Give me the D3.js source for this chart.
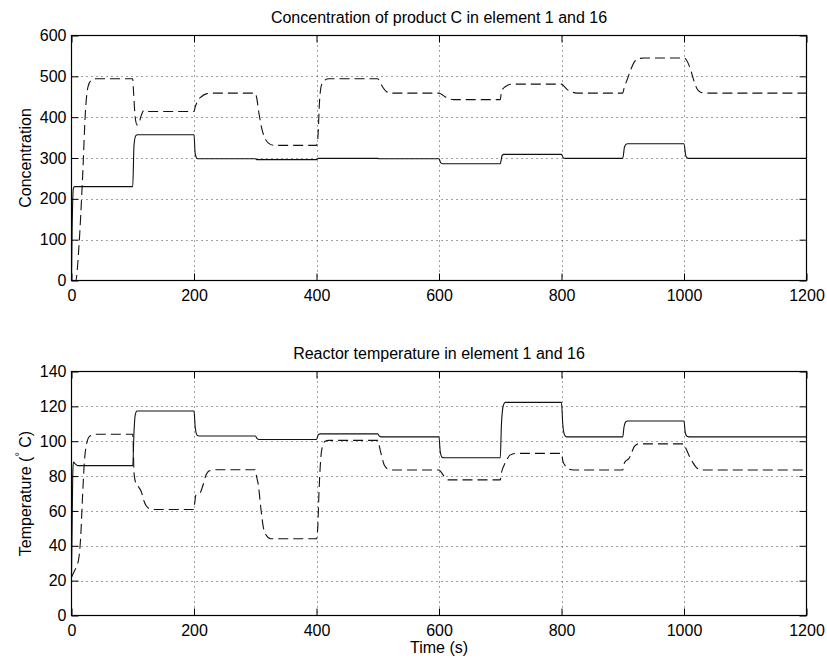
<!DOCTYPE html>
<html><head><meta charset="utf-8">
<script src="https://cdn.jsdelivr.net/npm/d3@7"></script>
<style>body{margin:0;background:#fff}</style>
</head><body>
<svg id="c" width="827" height="659"></svg>
<script>
const timeTicks = [0, 200, 400, 600, 800, 1000, 1200];
const concTicks = [0, 100, 200, 300, 400, 500, 600];
const tempTicks = [0, 20, 40, 60, 80, 100, 120, 140];

// Concentration of product C, element 1 (solid)
const concElem1 = [[0,0],[1,120],[3,225],[5,230],[100,230],[102,330],[105,355],[108,357],[200,357],[202,310],[205,299],[208,298],[300,298],[303,296],[400,296],[403,299],[500,299],[503,298],[600,298],[603,288],[606,286],[700,286],[703,306],[706,309],[800,309],[803,300],[806,299],[900,299],[903,328],[907,335],[1000,335],[1003,305],[1007,299],[1200,299]];
// Concentration of product C, element 16 (dashed)
const concElem16 = [[0,0],[7,0],[12,80],[18,250],[23,420],[27,475],[32,490],[40,494],[100,494],[101,470],[104,400],[107,381],[110,385],[114,405],[118,416],[124,414],[200,414],[202,425],[206,440],[212,450],[220,457],[230,459],[300,459],[302,450],[306,410],[311,370],[317,345],[324,334],[332,331],[400,331],[402,345],[405,440],[408,478],[413,490],[420,494],[500,494],[503,488],[508,474],[514,463],[522,459],[600,459],[604,456],[610,450],[616,445],[624,443],[700,443],[702,462],[706,472],[712,478],[720,481],[800,481],[804,476],[810,467],[818,461],[826,459],[900,459],[902,470],[908,495],[914,520],[920,537],[928,544],[935,545],[1000,545],[1004,540],[1010,520],[1016,490],[1021,470],[1027,461],[1035,459],[1200,459]];
// Reactor temperature, element 1 (solid)
const tempElem1 = [[0,22],[1,50],[2,80],[3,88],[6,87],[10,86],[100,86],[102,105],[104,115],[107,117.3],[200,117.3],[202,108],[205,103.5],[208,103],[300,103],[303,101.5],[306,101],[400,101],[403,103.8],[406,104.2],[500,104.2],[503,102.8],[506,102.5],[600,102.5],[602,94],[605,90.8],[608,90.5],[700,90.5],[702,110],[705,120.5],[708,122.3],[800,122.3],[802,110],[805,103.5],[808,102.5],[900,102.5],[902,108],[905,111.2],[908,111.6],[1000,111.6],[1002,105],[1005,102.8],[1008,102.5],[1200,102.5]];
// Reactor temperature, element 16 (dashed)
const tempElem16 = [[0,22],[4,25],[8,28],[12,33],[15,45],[18,68],[21,88],[25,99],[30,103],[40,104],[100,104],[101,95],[102,82],[105,76],[110,73.5],[114,71],[118,66],[122,63],[128,61.2],[135,60.8],[200,60.8],[201,64],[203,69],[206,70],[210,70.5],[214,74],[219,80],[225,83],[233,83.6],[300,83.6],[302,80],[305,75],[309,62],[313,51],[318,46],[325,44],[400,44],[402,50],[404,70],[406,85],[409,96],[414,100],[420,100.5],[500,100.5],[502,98],[506,92],[511,86],[517,84],[525,83.5],[600,83.5],[604,82],[609,79.5],[615,77.8],[700,77.8],[702,82],[706,86],[710,89],[716,92],[725,93],[800,93],[802,89],[806,86],[812,84],[820,83.5],[900,83.5],[902,87],[906,89],[910,90],[914,93],[919,97],[926,98.5],[1000,98.5],[1003,96],[1008,92],[1014,88],[1020,85],[1028,83.5],[1200,83.5]];

const FONT = '"Liberation Sans", Arial, Helvetica, sans-serif';
const svg = d3.select("#c");
svg.append("rect").attr("width", 827).attr("height", 659).attr("fill", "#fff");

const X0 = 71.5, X1 = 806.5;
const x = d3.scaleLinear().domain([0, 1200]).range([X0, X1]);

const panels = [
  {top: 35.5, bottom: 280.5, ymax: 600, yticks: concTicks,
   title: "Concentration of product C in element 1 and 16", ylabel: "conc",
   solid: concElem1, dashed: concElem16},
  {top: 371.5, bottom: 615.5, ymax: 140, yticks: tempTicks,
   title: "Reactor temperature in element 1 and 16", ylabel: "temp",
   solid: tempElem1, dashed: tempElem16}
];

panels.forEach((p, i) => {
  const y = d3.scaleLinear().domain([0, p.ymax]).range([p.bottom, p.top]);
  const g = svg.append("g");

  // grid
  const grid = g.append("g").attr("stroke", "#444").attr("stroke-width", 1).attr("stroke-dasharray", "1,4");
  timeTicks.filter(t => t > 0 && t < 1200).forEach(t => {
    grid.append("line").attr("x1", Math.round(x(t)) + 0.5).attr("x2", Math.round(x(t)) + 0.5)
      .attr("y1", p.top).attr("y2", p.bottom);
  });
  p.yticks.filter(v => v > 0 && v < p.ymax).forEach(v => {
    grid.append("line").attr("y1", Math.round(y(v)) + 0.5).attr("y2", Math.round(y(v)) + 0.5)
      .attr("x1", X0).attr("x2", X1);
  });

  // lines
  const line = d3.line().x(d => x(d[0])).y(d => y(d[1])).curve(d3.curveMonotoneX);
  g.append("path").datum(p.solid).attr("d", line).attr("fill", "none")
    .attr("stroke", "#111").attr("stroke-width", 1.1);
  g.append("path").datum(p.dashed).attr("d", line).attr("fill", "none")
    .attr("stroke", "#111").attr("stroke-width", 1.1).attr("stroke-dasharray", "10,5");

  // axes
  const axB = d3.axisBottom(x).tickValues(timeTicks).tickSize(-7).tickPadding(9).tickFormat(d3.format("d"));
  const axT = d3.axisTop(x).tickValues(timeTicks).tickSize(-7).tickFormat("");
  const axL = d3.axisLeft(y).tickValues(p.yticks).tickSize(-7).tickPadding(5).tickFormat(d3.format("d"));
  const axR = d3.axisRight(y).tickValues(p.yticks).tickSize(-7).tickFormat("");
  const gb = g.append("g").attr("transform", `translate(0,${p.bottom})`).call(axB);
  const gt = g.append("g").attr("transform", `translate(0,${p.top})`).call(axT);
  const gl = g.append("g").attr("transform", `translate(${X0},0)`).call(axL);
  const gr = g.append("g").attr("transform", `translate(${X1},0)`).call(axR);
  [gb, gt, gl, gr].forEach(a => {
    a.select(".domain").remove();
    a.selectAll("line").attr("stroke", "#000");
    a.selectAll("text").attr("font-family", FONT).attr("font-size", 16).attr("fill", "#000");
  });

  // box
  g.append("rect").attr("x", X0).attr("y", p.top).attr("width", X1 - X0).attr("height", p.bottom - p.top)
    .attr("fill", "none").attr("stroke", "#000").attr("stroke-width", 1.2);

  // title
  g.append("text").attr("x", (X0 + X1) / 2).attr("y", p.top - 13).attr("text-anchor", "middle")
    .attr("font-family", FONT).attr("font-size", 16).text(p.title);

  // y label
  const yl = g.append("text").attr("transform", `translate(31,${(p.top + p.bottom) / 2}) rotate(-90)`)
    .attr("text-anchor", "middle").attr("font-family", FONT).attr("font-size", 16);
  if (p.ylabel === "conc") {
    yl.text("Concentration");
  } else {
    yl.append("tspan").text("Temperature (");
    yl.append("tspan").attr("font-size", 11).attr("dy", -8).text("°");
    yl.append("tspan").attr("dy", 8).text(" C)");
  }
});

svg.append("text").attr("x", (X0 + X1) / 2).attr("y", 653).attr("text-anchor", "middle")
  .attr("font-family", FONT).attr("font-size", 16).text("Time (s)");
</script>
</body></html>
